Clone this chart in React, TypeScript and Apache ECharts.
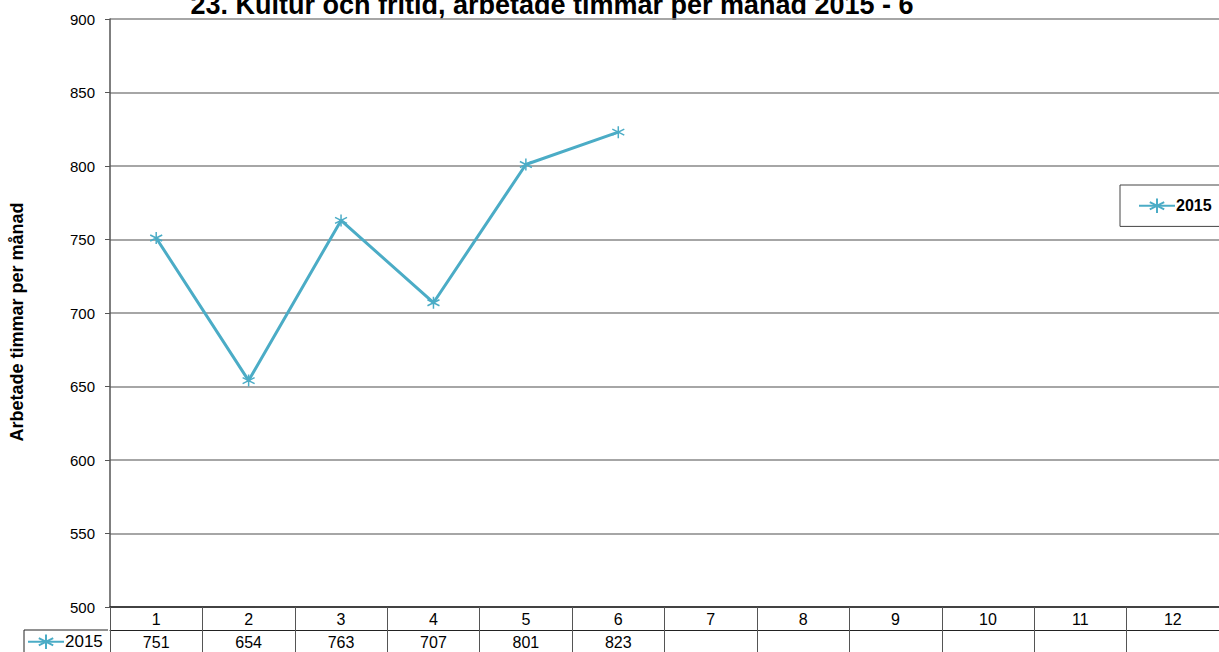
import React, { useEffect, useRef } from "react";
import * as echarts from "echarts";

const title = "23. Kultur och fritid, arbetade timmar per månad 2015 - 6";
const yAxisName = "Arbetade timmar per månad";
const months = ["1", "2", "3", "4", "5", "6", "7", "8", "9", "10", "11", "12"];
const seriesName = "2015";
const values2015 = [751, 654, 763, 707, 801, 823];
const yMin = 500;
const yMax = 900;
const yStep = 50;

const COLOR = "#4BACC6";
const FONT = "Arial, 'Liberation Sans', sans-serif";
const ASTERISK = "path://M5,0L5,10M0.67,2.5L9.33,7.5M0.67,7.5L9.33,2.5";

export default function App() {
  const ref = useRef<HTMLDivElement>(null);
  useEffect(() => {
    document.body.style.margin = "0";
    const chart = echarts.init(ref.current!, null, { renderer: "svg" });
    const tableValues = months.map((_, i) => (i < values2015.length ? String(values2015[i]) : ""));
    chart.setOption({
      animation: false,
      textStyle: { fontFamily: FONT },
      grid: { left: 108, top: 19, width: 1121, height: 588, containLabel: false },
      legend: [
        {
          left: 1120,
          top: 185,
          orient: "vertical",
          borderColor: "#444",
          borderWidth: 1,
          padding: [11, 14, 11, 18],
          itemWidth: 36,
          itemHeight: 18,
          itemGap: 0,
          textStyle: { fontSize: 16, fontWeight: "bold", color: "#000", fontFamily: FONT, padding: [0, 0, 0, -4] },
          data: [seriesName],
        },
        {
          left: 27,
          top: 632,
          padding: 0,
          itemWidth: 36,
          itemHeight: 18,
          itemGap: 0,
          textStyle: { fontSize: 17, color: "#000", padding: [0, 0, 0, -4], fontFamily: FONT },
          data: [seriesName],
        },
      ],
      xAxis: [
        {
          type: "category",
          data: months,
          position: "bottom",
          boundaryGap: true,
          axisLine: { show: true, lineStyle: { color: "#222", width: 1.5 } },
          axisTick: { show: true, length: 45, lineStyle: { color: "#555", width: 1 } },
          axisLabel: { color: "#000", fontSize: 16, margin: 4 },
        },
        {
          type: "category",
          data: tableValues,
          position: "bottom",
          offset: 23,
          boundaryGap: true,
          axisLine: { show: true, lineStyle: { color: "#222", width: 1 } },
          axisTick: { show: false },
          axisLabel: { color: "#000", fontSize: 16, margin: 4 },
        },
      ],
      yAxis: {
        type: "value",
        min: yMin,
        max: yMax,
        interval: yStep,
        name: yAxisName,
        nameLocation: "middle",
        nameGap: 84,
        nameRotate: 90,
        nameTextStyle: { fontSize: 18, fontWeight: "bold", color: "#000", fontFamily: FONT, padding: [0, 18, 0, 0] },
        axisLine: { show: true, lineStyle: { color: "#555", width: 1.5 } },
        axisTick: { show: true, length: 5, lineStyle: { color: "#555" } },
        axisLabel: { color: "#000", fontSize: 15, margin: 15 },
        splitLine: { show: true, lineStyle: { color: "#888", width: 1.5 } },
      },
      series: [
        {
          name: seriesName,
          type: "line",
          xAxisIndex: 0,
          data: values2015,
          symbol: ASTERISK,
          symbolSize: 12,
          showAllSymbol: true,
          lineStyle: { color: COLOR, width: 3 },
          itemStyle: { color: "none", borderColor: COLOR, borderWidth: 1.5 },
        },
      ],
      graphic: [
        {
          type: "text",
          x: 552,
          y: 18,
          style: {
            text: title,
            font: "bold 27px Arial, 'Liberation Sans', sans-serif",
            fill: "#000",
            textAlign: "center",
            textVerticalAlign: "bottom",
          },
        },
        {
          type: "line",
          shape: { x1: 24, y1: 630, x2: 108, y2: 630 },
          style: { stroke: "#222", lineWidth: 1 },
        },
        {
          type: "line",
          shape: { x1: 24, y1: 630, x2: 24, y2: 652 },
          style: { stroke: "#222", lineWidth: 1 },
        },
      ],
    });
    return () => chart.dispose();
  }, []);
  return <div ref={ref} style={{ position: "absolute", left: 0, top: 0, width: 1219, height: 652 }} />;
}
